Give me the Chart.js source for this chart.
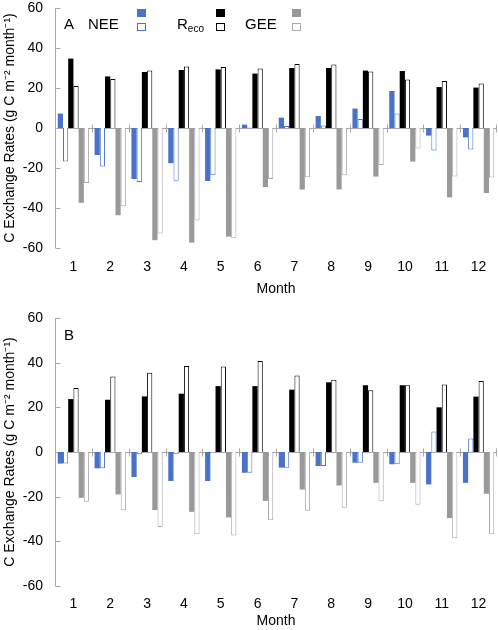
<!DOCTYPE html>
<html><head><meta charset="utf-8">
<script src="https://cdn.jsdelivr.net/npm/chart.js@4.4.1/dist/chart.umd.min.js"></script>
<style>
body{margin:0;background:#fff;}
#wrap{position:relative;width:498px;height:630px;font-family:"Liberation Sans",Arial,sans-serif;overflow:hidden;}
.cw{position:absolute;left:0;width:498px;}
.lbl{position:absolute;font-size:15px;color:#000;line-height:16px;white-space:nowrap;}
.lbl sub{font-size:10px;vertical-align:-3px;line-height:0;}
.sq{position:absolute;width:9px;height:8px;box-sizing:border-box;}
</style></head>
<body><div id="wrap">
<div class="cw" style="top:0;height:300px"><canvas id="cA" width="498" height="300"></canvas></div>
<div class="cw" style="top:300px;height:330px"><canvas id="cB" width="498" height="330"></canvas></div>
<div class="lbl" style="left:64px;top:16px">A</div>
<div class="lbl" style="left:88px;top:16px">NEE</div>
<div class="sq" style="left:137px;top:9px;background:#4a72c8"></div>
<div class="sq" style="left:137px;top:23px;border:1px solid #4a72c8;background:#fff"></div>
<div class="lbl" style="left:177px;top:16px">R<sub>eco</sub></div>
<div class="sq" style="left:216px;top:9px;background:#000"></div>
<div class="sq" style="left:216px;top:23px;border:1px solid #000;background:#fff"></div>
<div class="lbl" style="left:245px;top:16px">GEE</div>
<div class="sq" style="left:292px;top:9px;background:#999"></div>
<div class="sq" style="left:292px;top:23px;border:1px solid #aaa;background:#fff"></div>
<div class="lbl" style="left:64px;top:327px">B</div>
</div>
<script>
const months = ['1','2','3','4','5','6','7','8','9','10','11','12'];
const yTicks = [-60,-40,-20,0,20,40,60];

// Panel A
const neeA_filled  = [7.2, -13.5, -25.5, -17.6, -26.5, 1.7, 5.2, 6.0, 9.7, 18.5, -3.8, -4.7];
const neeA_open    = [-16.8, -19.3, -27.0, -26.4, -23.6, 0.3, 1.0, 1.2, 4.5, 7.2, -11.2, -10.7];
const recoA_filled = [34.7, 25.8, 28.0, 29.0, 29.3, 27.2, 30.0, 30.0, 28.7, 28.5, 20.5, 20.2];
const recoA_open   = [21.0, 24.5, 28.8, 30.8, 30.5, 29.7, 32.0, 31.7, 28.3, 24.2, 23.5, 22.2];
const geeA_filled  = [-37.4, -43.6, -56.1, -57.3, -54.3, -29.5, -30.8, -30.7, -24.3, -16.8, -34.7, -32.5];
const geeA_open    = [-27.5, -39.1, -52.8, -46.2, -55.1, -25.5, -24.6, -23.6, -18.5, -10.2, -24.3, -24.8];

// Panel B
const neeB_filled  = [-5.2, -7.3, -11.2, -13.0, -13.0, -9.3, -7.0, -6.3, -4.8, -5.5, -14.5, -13.8];
const neeB_open    = [-5.2, -7.3, -1.0, -1.0, -0.5, -9.3, -7.0, -6.3, -4.8, -5.5, 9.2, 6.0];
const recoB_filled = [23.7, 23.4, 24.9, 26.1, 29.5, 29.5, 27.9, 31.2, 29.9, 29.9, 20.0, 24.8];
const recoB_open   = [28.7, 33.8, 35.5, 38.5, 38.3, 40.7, 34.2, 32.4, 27.6, 29.9, 30.2, 31.8];
const geeB_filled  = [-20.5, -19.0, -26.0, -26.8, -29.3, -21.9, -16.8, -15.0, -13.8, -13.8, -29.6, -18.7];
const geeB_open    = [-22.3, -26.1, -33.6, -36.8, -37.4, -30.6, -26.3, -25.0, -22.0, -23.6, -38.6, -36.8];

const BLUE = '#4a72c8', BLACK = '#000000', GRAY = '#999999', GRAY_OPEN = '#aaaaaa', AXIS = '#a8a8a8';
const FONT = 'Liberation Sans, Arial, sans-serif';

function ds(label, data, fill, border){
  if (fill) return {label, data, backgroundColor: fill, borderWidth: 0};
  return {label, data, backgroundColor: '#ffffff', borderColor: border, borderWidth: 1};
}

const axesPlugin = {
  id: 'axesDraw',
  beforeDatasetsDraw(chart){
    const {ctx, chartArea: a, scales: {x, y}} = chart;
    ctx.save();
    ctx.strokeStyle = AXIS; ctx.lineWidth = 1;
    const left = Math.round(a.left) + 0.5;
    ctx.beginPath();
    ctx.moveTo(left, y.getPixelForValue(60)); ctx.lineTo(left, y.getPixelForValue(-60));
    yTicks.forEach(v => { const py = Math.round(y.getPixelForValue(v)) + 0.5; ctx.moveTo(left, py); ctx.lineTo(left + 5, py); });
    const zy = Math.round(y.getPixelForValue(0)) + 0.5;
    ctx.moveTo(left, zy); ctx.lineTo(a.right, zy);
    for (let i = 1; i <= months.length; i++) {
      const bx = i < months.length ? Math.round((x.getPixelForTick(i - 1) + x.getPixelForTick(i)) / 2) + 0.5 : Math.round(a.right) - 0.5;
      ctx.moveTo(bx, zy - 4); ctx.lineTo(bx, zy + 4);
    }
    ctx.stroke();
    ctx.restore();
  }
};

function makeChart(id, sets, padTop, padBottom, tickPad, titlePad, xHeight){
  return new Chart(document.getElementById(id), {
    type: 'bar',
    data: { labels: months, datasets: [
      ds('NEE', sets[0], BLUE), ds('NEE open', sets[1], null, BLUE),
      ds('Reco', sets[2], BLACK), ds('Reco open', sets[3], null, BLACK),
      ds('GEE', sets[4], GRAY), ds('GEE open', sets[5], null, GRAY_OPEN)
    ]},
    options: {
      responsive: false, animation: false,
      layout: { padding: { top: padTop, bottom: padBottom, right: 1, left: 0 } },
      datasets: { bar: { categoryPercentage: 0.85, barPercentage: 1.0 } },
      plugins: { legend: { display: false }, tooltip: { enabled: false } },
      scales: {
        x: {
          grid: { display: false, drawTicks: false }, border: { display: false },
          ticks: { font: { size: 14, family: FONT }, color: '#000', padding: tickPad, maxRotation: 0 },
          title: { display: true, text: 'Month', font: { size: 14, family: FONT }, color: '#000', padding: titlePad },
          afterFit(s){ s.height = xHeight; s.paddingLeft = 0; s.paddingRight = 0; }
        },
        y: {
          min: -60, max: 60,
          grid: { display: false, drawTicks: false }, border: { display: false },
          ticks: { stepSize: 20, font: { size: 14, family: FONT }, color: '#000', padding: 12 },
          title: { display: true, text: 'C Exchange Rates (g C m\u207B\u00B2 month\u207B\u00B9)', font: { size: 14, family: FONT }, color: '#000', padding: { top: 2, bottom: 0 } },
          afterFit(s){ s.width = 55; s.paddingTop = 0; s.paddingBottom = 0; }
        }
      }
    },
    plugins: [axesPlugin]
  });
}

makeChart('cA', [neeA_filled, neeA_open, recoA_filled, recoA_open, geeA_filled, geeA_open], 8, 1, 11, {top: 5, bottom: 1}, 51);
makeChart('cB', [neeB_filled, neeB_open, recoB_filled, recoB_open, geeB_filled, geeB_open], 18, 0, 10, {top: 1, bottom: 0}, 44);
</script>
</body></html>
